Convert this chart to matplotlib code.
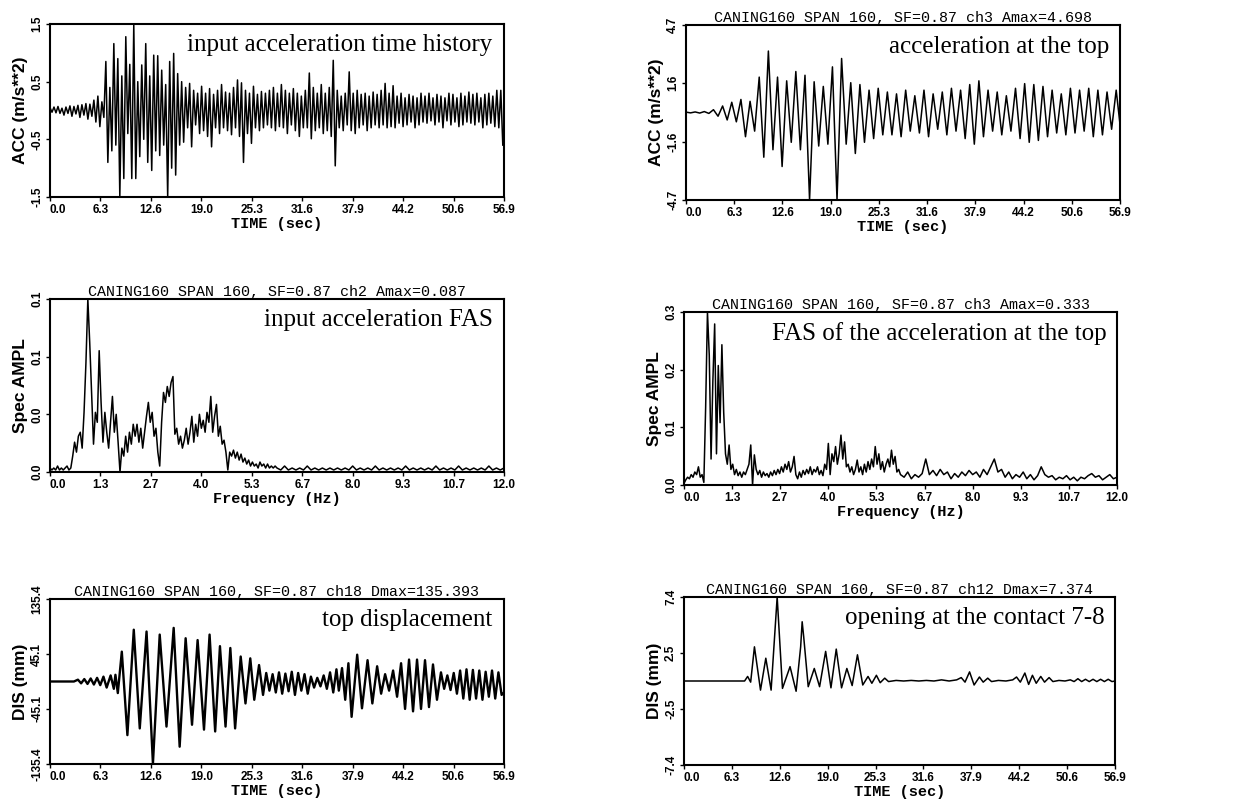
import numpy as np
import matplotlib.pyplot as plt

# ---- values ----
time_ticks = ['0.0', '6.3', '12.6', '19.0', '25.3', '31.6', '37.9', '44.2', '50.6', '56.9']
freq_ticks = ['0.0', '1.3', '2.7', '4.0', '5.3', '6.7', '8.0', '9.3', '10.7', '12.0']

# input acceleration (m/s**2), one value every 0.25 s
acc_in = [
    0.05, -0.03, 0.06, -0.04, 0.07, -0.05, 0.04, -0.08, 0.06, -0.05, 0.08, -0.10, 0.07, -0.06,
    0.09, -0.12, 0.10, -0.08, 0.12, -0.15, 0.11, -0.10, 0.18, -0.20, 0.25, -0.28, 0.15, -0.12,
    # 7 - 17 s
    0.85, -0.90, 0.40, -0.70, 1.16, -0.60, 0.90, -1.50, 0.60, -1.18, 1.28, -0.40, 0.80, -1.18,
    1.50, -1.18, 0.50, -0.80, 0.79, -0.50, 1.16, -0.90, 0.60, -1.04, 0.96, -0.70, 0.95, -0.78,
    0.70, -0.60, 0.45, -1.50, 0.85, -1.00, 0.99, -1.12, 0.64, -0.60, 0.50, -0.55,
    # 17 - 27 s
    0.40, -0.30, 0.47, -0.63, 0.35, -0.25, 0.30, -0.40, 0.42, -0.35, 0.30, -0.45, 0.38, -0.63,
    0.28, -0.30, 0.35, -0.40, 0.45, -0.30, 0.32, -0.35, 0.30, -0.42, 0.40, -0.30, 0.53, -0.45,
    0.48, -0.90, 0.35, -0.40, 0.30, -0.57, 0.42, -0.30, 0.28, -0.35, 0.33, -0.30,
    # 27 - 37 s
    0.30, -0.25, 0.35, -0.30, 0.40, -0.35, 0.30, -0.28, 0.45, -0.30, 0.35, -0.40, 0.30, -0.25,
    0.38, -0.35, 0.30, -0.45, 0.25, -0.30, 0.35, -0.30, 0.65, -0.49, 0.40, -0.35, 0.30, -0.30,
    0.45, -0.40, 0.30, -0.35, 0.40, -0.45, 0.87, -0.96, 0.35, -0.30, 0.25, -0.35,
    # 37 - 47 s
    0.30, -0.25, 0.67, -0.35, 0.30, -0.40, 0.35, -0.30, 0.28, -0.25, 0.30, -0.35, 0.25, -0.30,
    0.32, -0.25, 0.28, -0.30, 0.35, -0.25, 0.47, -0.30, 0.30, -0.28, 0.43, -0.30, 0.25, -0.22,
    0.30, -0.28, 0.22, -0.25, 0.28, -0.20, 0.25, -0.30, 0.22, -0.25, 0.30, -0.20,
    # 47 - 57 s
    0.25, -0.22, 0.30, -0.18, 0.22, -0.25, 0.28, -0.20, 0.25, -0.30, 0.22, -0.18, 0.30, -0.25,
    0.28, -0.20, 0.22, -0.28, 0.30, -0.25, 0.25, -0.20, 0.32, -0.22, 0.28, -0.25, 0.30, -0.20,
    0.22, -0.30, 0.28, -0.25, 0.30, -0.22, 0.25, -0.28, 0.35, -0.30, 0.35, -0.60,
]

# acceleration at the top (m/s**2), one extreme every 0.6 s
acc_top = [
    0.02, -0.02, 0.03, -0.03, 0.05, -0.05, 0.15, -0.2, 0.35, -0.4, 0.55, -0.5, 0.7, -1.3, 0.6,
    -1.0, 1.9, -2.4, 3.3, -2.0, 1.9, -2.9, 1.7, -1.6, 2.2, -2.0, 2.0, -4.7, 1.65, -1.8, 1.4,
    -1.7, 2.45, -4.7, 2.9, -1.7, 1.6, -2.2, 1.5, -1.6, 1.2, -1.4, 1.3, -1.2,
    1.1, -1.2, 1.0, -1.3, 1.2, -1.0, 0.9, -1.1, 1.2, -1.3, 1.0, -0.9, 1.1, -1.2, 1.3, -1.0,
    1.2, -1.4, 1.5, -1.7, 1.7, -1.3, 1.2, -1.0, 1.1, -1.2, 0.9, -1.0, 1.3, -1.4, 1.55, -1.6,
    1.5, -1.5, 1.4, -1.3, 1.2, -1.1, 1.0, -1.2, 1.3, -1.1, 1.2, -1.0, 1.3, -1.3, 1.2,
    -1.2, 1.1, -0.9, 1.2, -1.0, 0.3,
]

# input acceleration FAS (x 0.001): 0.05 Hz steps up to 6 Hz, then 0.1 Hz steps
fas_in_lo = [
    2, 1, 2, 1, 3, 1, 2, 1, 2, 3, 1, 2,
    8, 15, 10, 18, 20, 12, 30, 55,
    87, 65, 40, 14, 30, 25, 61, 35, 15, 30, 20, 12, 25, 38, 20, 29, 15, 0, 12, 8,
    18, 10, 20, 14, 24, 18, 24, 15, 22, 12,
    20, 28, 35, 25, 30, 18, 22, 10, 3, 25,
    40, 35, 43, 38, 45, 48, 19, 22, 14, 18,
    12, 16, 22, 14, 20, 28, 15, 24, 18, 29,
    22, 26, 20, 30, 25, 38, 20, 28, 34, 18,
    23, 14, 16, 10, 1, 10, 8, 11, 7, 10,
    6, 9, 5, 7, 4, 6, 3, 5, 3, 4, 2, 5, 3, 4, 2, 4, 2, 3, 2, 3,
]
fas_in_hi = [
    2, 1, 3, 1, 2, 1, 2, 1, 3, 1, 2, 1, 2, 1, 2, 1, 2, 1, 2, 1,
    3, 1, 2, 1, 2, 1, 3, 1, 2, 1, 2, 1, 2, 1, 3, 1, 2, 1, 2, 1,
    2, 1, 3, 1, 2, 1, 2, 1, 3, 1, 2, 1, 2, 1, 2, 1, 3, 1, 2, 1, 2,
]

# FAS of the acceleration at the top (x 0.001), same frequency steps
fas_top_lo = [
    3, 10, 15, 12, 20, 15, 25, 20, 35, 15, 20, 5,
    150, 333, 250, 50, 200, 310, 60, 230, 120, 270, 140, 60, 40, 77, 30, 40, 20, 30, 18, 25,
    15, 25, 20, 30, 40, 77, 0, 58, 30, 20, 28, 15, 25, 18, 22, 15, 25, 18, 28, 20,
    30, 22, 35, 25, 40, 30, 45, 25, 35, 55, 20, 12, 25, 15, 28, 20, 30, 22, 35, 20,
    30, 25, 35, 20, 28, 18, 40, 30, 80, 20, 60, 45, 74, 40, 60, 96, 50, 83, 35, 40,
    25, 35, 20, 30, 48, 25, 35, 20, 40, 25, 45, 30, 50, 35, 74, 40, 60, 30, 45, 25,
    40, 50, 35, 67, 40, 55, 25, 30,
]
fas_top_hi = [
    20, 15, 25, 12, 20, 15, 22, 50, 20, 28, 18, 30, 20, 25, 12, 22, 15, 25, 18, 28,
    20, 25, 15, 30, 20, 35, 50, 25, 30, 15, 25, 12, 20, 15, 25, 12, 20, 10, 18, 35,
    20, 15, 18, 10, 15, 12, 18, 10, 15, 8, 15, 12, 18, 22, 15, 18, 10, 15, 20, 12, 15,
]

# top displacement, extremes (s, mm)
dis_t = [0, 3.0, 3.5, 3.9, 4.3, 4.7, 5.1, 5.5, 5.9, 6.3, 6.7, 7.1, 7.6, 8.0, 8.2, 8.5,
         9.0, 9.7, 10.5, 11.25, 12.1, 12.9, 13.75, 14.6, 15.5, 16.25, 17.0, 17.8, 18.5,
         19.3, 20.0, 20.7, 21.3, 22.0, 22.6, 23.2, 23.9, 24.5, 25.1, 25.6, 26.2, 26.7,
         27.1, 27.5, 27.9, 28.3, 28.7, 29.1, 29.5, 29.9, 30.3, 30.7, 31.1, 31.5, 31.9,
         32.3, 32.7, 33.1, 33.5, 33.9, 34.3, 34.7, 35.1, 35.5, 35.9, 36.2, 36.6, 37.0,
         37.4, 37.8, 38.5, 39.1, 39.8, 40.4, 41.0, 41.5, 42.0, 42.5, 43.0, 43.5, 44.0,
         44.5, 45.0, 45.5, 46.0, 46.5, 47.0, 47.5, 48.0, 48.5, 49.0, 49.4, 49.8, 50.2,
         50.6, 51.0, 51.4, 51.8, 52.2, 52.6, 53.0, 53.4, 53.8, 54.2, 54.6, 55.0, 55.4,
         55.8, 56.2, 56.6, 56.9]
dis_v = [0, 0, 3, -3, 4, -4, 5, -5, 6, -6, 8, -10, 10, -12, 11, -19,
         49, -88, 85, -77, 82, -135, 77, -74, 88, -107, 71, -71, 68,
         -79, 77, -82, 58, -74, 55, -77, 41, -36, 38, -30, 27, -22,
         14, -15, 12, -18, 15, -20, 13, -16, 16, -22, 14, -15, 12,
         -20, 8, -10, 6, -8, 10, -12, 15, -18, 20, -15, 22, -30,
         30, -58, 44, -44, 35, -36, 25, -20, 12, -15, 18, -25, 30,
         -45, 36, -49, 36, -45, 35, -42, 28, -30, 15, -12, 10, -14,
         14, -20, 18, -28, 20, -30, 19, -28, 18, -30, 16, -25, 18,
         -28, 15, -22, -18]

# opening at contact 7-8 (s, mm)
open_t = [0, 8.0, 8.4, 8.8, 9.3, 10.1, 10.8, 11.5, 12.3, 13.0, 14.0, 14.8, 15.4, 15.6, 15.8,
          16.4, 17.2, 17.9, 18.7, 19.4, 20.1, 20.8, 21.5, 22.2, 22.9, 23.6, 24.3, 24.8,
          25.4, 25.9, 26.5, 27.0, 28, 29, 30, 31, 32, 33, 34, 35, 36.0, 36.6, 37.1, 37.7,
          38.3, 39.0, 39.5, 40.1, 40.6, 41.5, 42.5, 43.4, 43.9, 44.4, 45.0, 45.5, 46.0,
          46.5, 47.1, 47.6, 48.2, 48.7, 49.5, 50.3, 51.0, 51.5, 52.0, 52.5, 53.0, 53.5,
          54.0, 54.5, 55.0, 55.5, 56.0, 56.5, 56.9]
open_v = [0, 0, 0.4, -0.1, 3.0, -0.8, 2.0, -0.8, 7.374, -0.65, 1.26, -0.9, 3.0, 5.2, 3.9,
          -0.5, 1.1, -0.5, 2.6, -0.6, 2.8, -0.6, 1.1, -0.4, 2.3, -0.35, 0.4, -0.2,
          0.5, -0.15, 0.25, -0.05, 0.05, 0, 0.05, 0, 0.05, 0, 0.1, 0, 0.1, 0.3, -0.1, 0.8,
          -0.35, 0.35, -0.1, 0.25, -0.05, 0.05, 0.0, 0.1, 0.35, -0.1, 0.7, -0.3, 0.5,
          -0.2, 0.4, -0.1, 0.3, -0.05, 0.05, 0, 0.1, -0.05, 0.2, -0.05, 0.15, -0.05,
          0.15, -0.05, 0.15, -0.05, 0.15, -0.05, 0.0]

title_text = {
    'acc_top': 'CANING160 SPAN 160, SF=0.87 ch3 Amax=4.698',
    'fas_in': 'CANING160 SPAN 160, SF=0.87 ch2 Amax=0.087',
    'fas_top': 'CANING160 SPAN 160, SF=0.87 ch3 Amax=0.333',
    'dis_top': 'CANING160 SPAN 160, SF=0.87 ch18 Dmax=135.393',
    'open': 'CANING160 SPAN 160, SF=0.87 ch12 Dmax=7.374',
}

MONO = 'Liberation Mono'
SANS = 'Liberation Sans'
SERIF = 'Liberation Serif'
W, H = 1235, 809

fig = plt.figure(figsize=(W / 100, H / 100), dpi=100)


def panel(x0, y0, x1, y1):
    return fig.add_axes([x0 / W, 1 - y1 / H, (x1 - x0) / W, (y1 - y0) / H])


def style(ax, xmax, xlabels, ylim, yticks, ylabels, xlabel, ylabel, note, title=None):
    ax.set_xlim(0, xmax)
    ax.set_ylim(*ylim)
    ax.set_xticks(np.linspace(0, xmax, len(xlabels)))
    ax.set_xticklabels(xlabels, fontfamily=SANS, fontweight='bold', fontsize=8.5)
    ax.get_xticklabels()[0].set_ha('left')
    ax.set_yticks(yticks)
    ax.set_yticklabels(ylabels, fontfamily=SANS, fontweight='bold', fontsize=8.5,
                       rotation=90, va='center')
    ax.tick_params(length=3, width=1, direction='out', pad=2)
    ax.set_xlabel(xlabel, fontfamily=MONO, fontweight='bold', fontsize=11, labelpad=1)
    ax.set_ylabel(ylabel, fontfamily=SANS, fontweight='bold', fontsize=12.5, labelpad=2)
    for s in ax.spines.values():
        s.set_linewidth(1.5)
    ax.text(0.975, 0.94, note, transform=ax.transAxes, ha='right', va='top',
            fontfamily=SERIF, fontsize=18)
    if title:
        ax.set_title(title, fontfamily=MONO, fontsize=10.8, pad=2)


LW = 1.1

# ---- input acceleration time history ----
ax1 = panel(50, 24, 504, 197)
ax1.plot(np.arange(len(acc_in)) * 0.25, acc_in, color='black', lw=LW)
style(ax1, 56.9, time_ticks, (-1.5, 1.5), [-1.5, -0.5, 0.5, 1.5],
      ['-1.5', '-0.5', '0.5', '1.5'], 'TIME (sec)', 'ACC (m/s**2)',
      'input acceleration time history')

# ---- acceleration at the top ----
ax2 = panel(686, 25, 1120, 200)
ax2.plot(np.arange(len(acc_top)) * 0.6, acc_top, color='black', lw=LW)
style(ax2, 56.9, time_ticks, (-4.698, 4.698), [-4.698, -1.566, 1.566, 4.698],
      ['-4.7', '-1.6', '1.6', '4.7'], 'TIME (sec)', 'ACC (m/s**2)',
      'acceleration at the top', title_text['acc_top'])

# ---- input acceleration FAS ----
f_lo = np.arange(len(fas_in_lo)) * 0.05
f_hi = 6.0 + np.arange(len(fas_in_hi)) * 0.1
ax3 = panel(50, 299, 504, 472)
ax3.plot(np.concatenate([f_lo, f_hi]), np.array(fas_in_lo + fas_in_hi) * 0.001,
         color='black', lw=LW)
style(ax3, 12.0, freq_ticks, (0, 0.087), [0, 0.029, 0.058, 0.087],
      ['0.0', '0.0', '0.1', '0.1'], 'Frequency (Hz)', 'Spec AMPL',
      'input acceleration FAS', title_text['fas_in'])

# ---- FAS of the acceleration at the top ----
ft_lo = np.arange(len(fas_top_lo)) * 0.05
ft_hi = 6.0 + np.arange(len(fas_top_hi)) * 0.1
ax4 = panel(684, 312, 1117, 485)
ax4.plot(np.concatenate([ft_lo, ft_hi]), np.array(fas_top_lo + fas_top_hi) * 0.001,
         color='black', lw=LW)
style(ax4, 12.0, freq_ticks, (0, 0.333), [0, 0.111, 0.222, 0.333],
      ['0.0', '0.1', '0.2', '0.3'], 'Frequency (Hz)', 'Spec AMPL',
      'FAS of the acceleration at the top', title_text['fas_top'])

# ---- top displacement ----
ax5 = panel(50, 599, 504, 764)
ax5.plot(dis_t, dis_v, color='black', lw=1.7)
style(ax5, 56.9, time_ticks, (-135.4, 135.4), [-135.4, -45.1, 45.1, 135.4],
      ['-135.4', '-45.1', '45.1', '135.4'], 'TIME (sec)', 'DIS (mm)',
      'top displacement', title_text['dis_top'])

# ---- opening at the contact 7-8 ----
ax6 = panel(684, 597, 1115, 765)
ax6.plot(open_t, open_v, color='black', lw=LW)
style(ax6, 56.9, time_ticks, (-7.374, 7.374), [-7.374, -2.458, 2.458, 7.374],
      ['-7.4', '-2.5', '2.5', '7.4'], 'TIME (sec)', 'DIS (mm)',
      'opening at the contact 7-8', title_text['open'])

fig.savefig('out.png', dpi=100)
